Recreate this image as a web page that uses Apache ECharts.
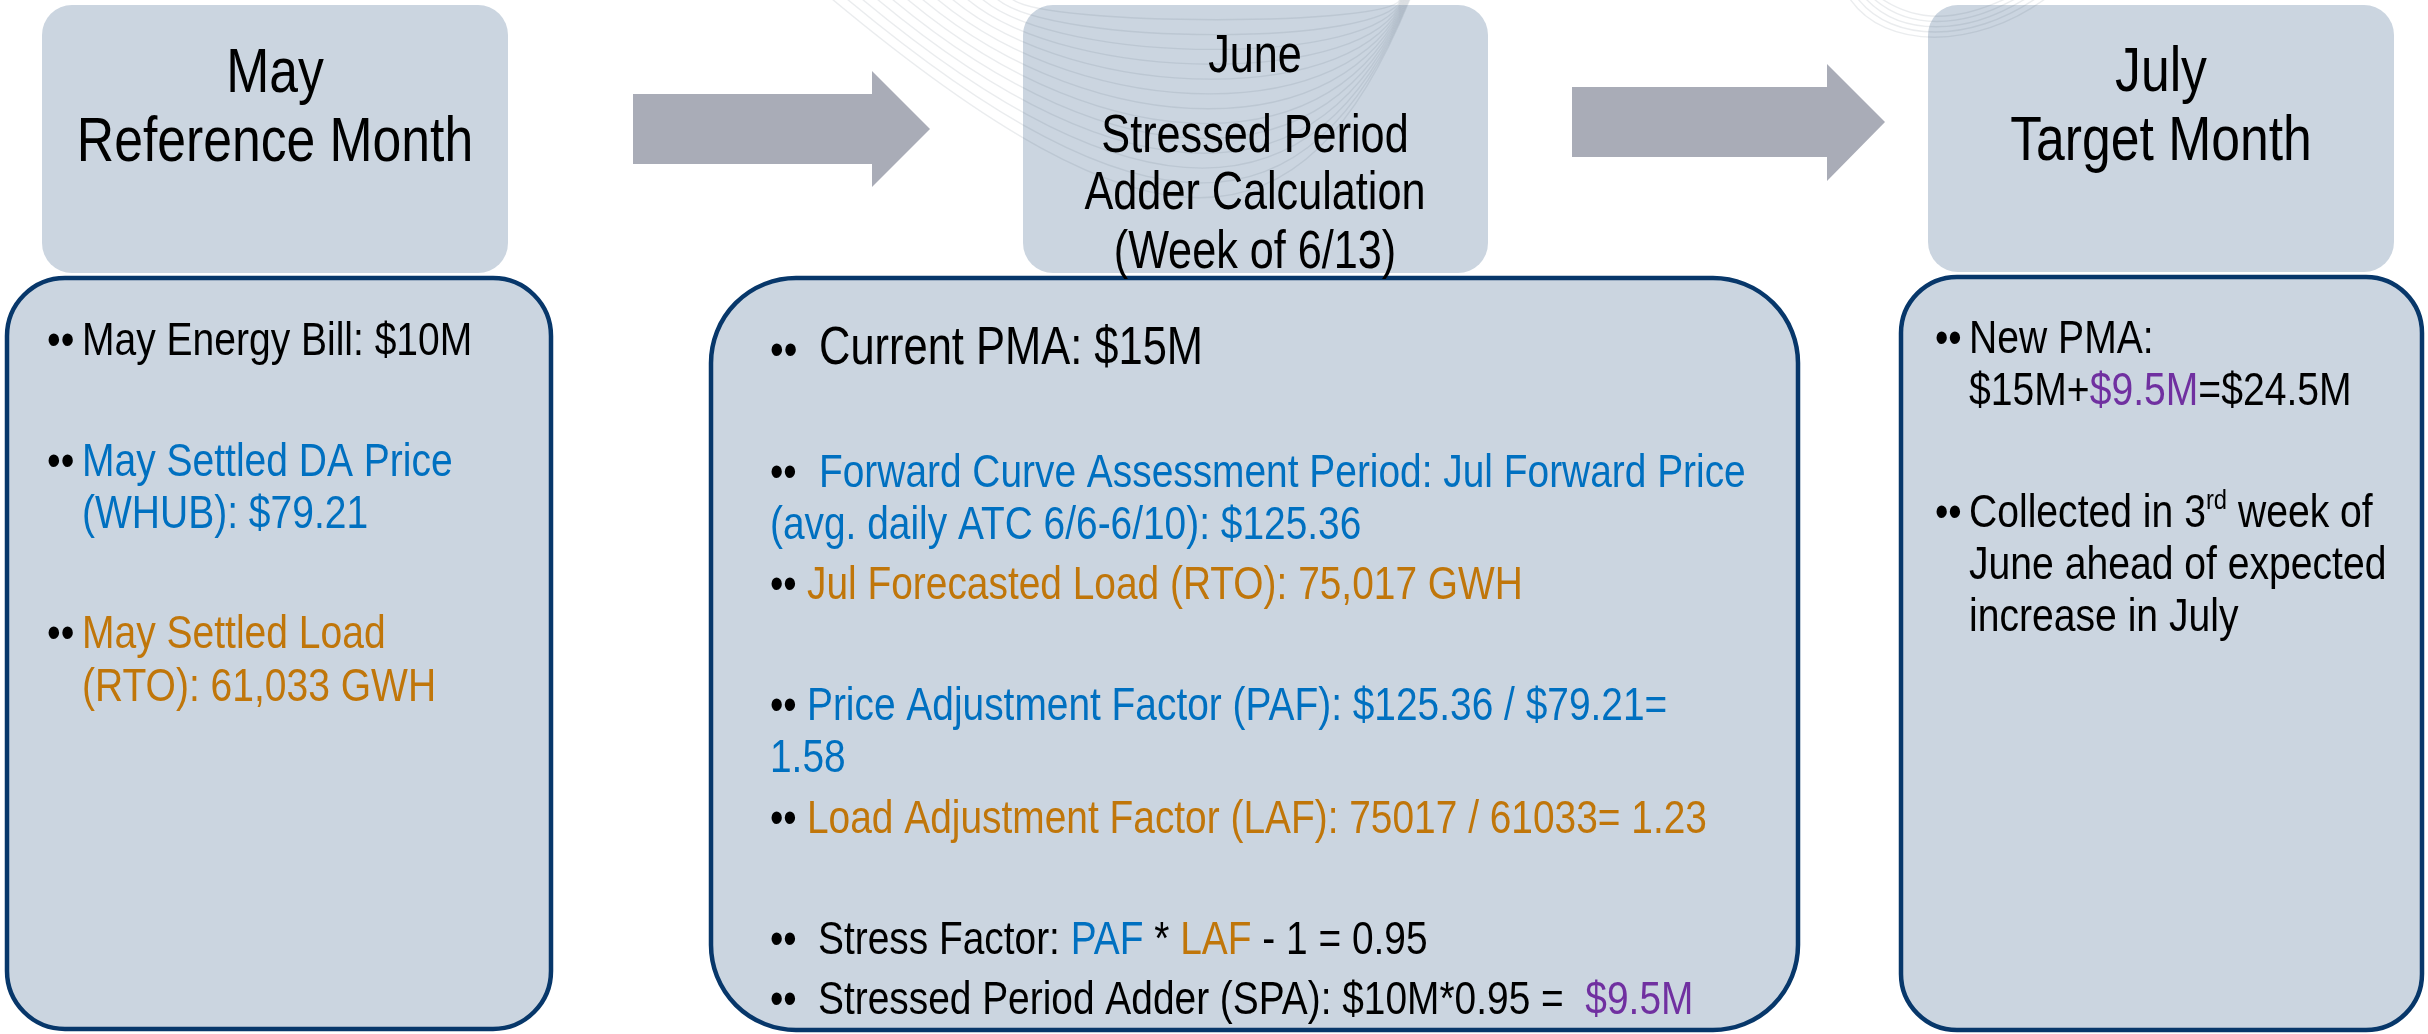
<!DOCTYPE html>
<html>
<head>
<meta charset="utf-8">
<script src="https://cdn.jsdelivr.net/npm/echarts@6/dist/echarts.min.js"></script>
<style>
html,body{margin:0;padding:0;background:#ffffff;}
#chart{width:2428px;height:1034px;}
</style>
</head>
<body>
<div id="chart"></div>
<script>
// ---------------- DATA (text content) ----------------
const headerMay  = ["May", "Reference Month"];
const headerJune = ["June", "Stressed Period", "Adder Calculation", "(Week of 6/13)"];
const headerJuly = ["July", "Target Month"];

// tone tags: k = plain (black), p = price (blue), l = load (orange), s = adder result (purple), sup = superscript
const mayLines = [
  { bullet: "k", segs: [["k", "May Energy Bill: $10M"]] },
  { bullet: "p", segs: [["p", "May Settled DA Price"]] },
  { bullet: null, segs: [["p", "(WHUB): $79.21"]] },
  { bullet: "l", segs: [["l", "May Settled Load"]] },
  { bullet: null, segs: [["l", "(RTO): 61,033 GWH"]] }
];
const juneLines = [
  { bullet: "k", segs: [["k", "Current PMA: $15M"]] },
  { bullet: "p", segs: [["p", "Forward Curve Assessment Period: Jul Forward Price"]] },
  { bullet: null, segs: [["p", "(avg. daily ATC 6/6-6/10): $125.36"]] },
  { bullet: "l", segs: [["l", "Jul Forecasted Load (RTO): 75,017 GWH"]] },
  { bullet: "p", segs: [["p", "Price Adjustment Factor (PAF): $125.36 / $79.21="]] },
  { bullet: null, segs: [["p", "1.58"]] },
  { bullet: "l", segs: [["l", "Load Adjustment Factor (LAF): 75017 / 61033= 1.23"]] },
  { bullet: "k", segs: [["k", "Stress Factor: "], ["p", "PAF"], ["k", " * "], ["l", "LAF"], ["k", " - 1 = 0.95"]] },
  { bullet: "k", segs: [["k", "Stressed Period Adder (SPA): $10M*0.95 =  "], ["s", "$9.5M"]] }
];
const julyLines = [
  { bullet: "k", segs: [["k", "New PMA:"]] },
  { bullet: null, segs: [["k", "$15M+"], ["s", "$9.5M"], ["k", "=$24.5M"]] },
  { bullet: "k", segs: [["k", "Collected in 3"], ["sup", "rd"], ["k", " week of"]] },
  { bullet: null, segs: [["k", "June ahead of expected"]] },
  { bullet: null, segs: [["k", "increase in July"]] }
];

// ---------------- LAYOUT / STYLE ----------------
const FF = '"Liberation Sans", Arial, Helvetica, sans-serif';
const COLORS = { k: "#000000", p: "#0070C0", l: "#C0760A", s: "#7030A0" };
const BOX_FILL = "#CBD5E0";
const BORDER = "#07376A";
const ARROW = "#A9ACB7";

const LAYOUT = {
  may:  { bulletX: 47,   textX: [82, 82, 82, 82, 82],
          baselines: [358, 479, 531, 651, 704], fs: [47,47,47,47,47], sx: 0.83 },
  june: { bulletX: 770,  textX: [819, 819, 770, 807, 807, 770, 807, 818, 818],
          baselines: [368, 490, 542, 602, 723, 775, 836, 957, 1017],
          fs: [53,46,46,46,46,46,46,46,46], sx: [0.82,0.845,0.845,0.845,0.845,0.845,0.845,0.845,0.845] },
  july: { bulletX: 1935, textX: [1969, 1969, 1969, 1969, 1969],
          baselines: [356, 408, 530, 582, 634], fs: [46,46,46,46,46], sx: 0.85 }
};

function richFor(fs, lh) {
  return {
    k: { fill: COLORS.k }, p: { fill: COLORS.p }, l: { fill: COLORS.l }, s: { fill: COLORS.s },
    sup: { fill: COLORS.k, fontSize: Math.round(fs * 0.6), fontFamily: FF,
           lineHeight: lh - 0.38 * fs, verticalAlign: "top" }
  };
}
function textLine(x, baseline, fs, sx, segs, align, color) {
  const lh = Math.round(fs * 1.15);
  const str = segs.map(s => "{" + s[0] + "|" + s[1] + "}").join("");
  return {
    type: "text", x: x, y: baseline - 0.3465 * fs, scaleX: sx, z: 20,
    style: {
      text: str, x: 0, y: 0, font: fs + "px " + FF, fill: color || "#000",
      align: align || "left", textAlign: align || "left",
      verticalAlign: "middle", textVerticalAlign: "middle",
      lineHeight: lh, rich: richFor(fs, lh)
    }
  };
}
function plainLine(x, baseline, fs, sx, text, align, color) {
  return textLine(x, baseline, fs, sx, [["k", text]], align, color);
}

const els = [];

// header boxes
[[42, 5, 466, 268], [1023, 5, 465, 268], [1928, 5, 466, 267]].forEach(b => {
  els.push({ type: "rect", z: 1, shape: { x: b[0], y: b[1], width: b[2], height: b[3], r: 30 },
             style: { fill: BOX_FILL } });
});
// body boxes
[[7, 278, 544, 751, 58], [711, 278, 1087, 752, 85], [1901, 277, 521, 753, 56]].forEach(b => {
  els.push({ type: "rect", z: 2, shape: { x: b[0], y: b[1], width: b[2], height: b[3], r: b[4] },
             style: { fill: BOX_FILL, stroke: BORDER, lineWidth: 4.5 } });
});

// decorative background curves
for (let i = 0; i <= 12; i++) {
  const t = i / 12;
  const h = (20 + 178 * t) / 0.75;
  const sxp = 1012 - 180 * t;
  els.push({ type: "bezierCurve", z: 5, silent: true,
    shape: { x1: sxp, y1: -1, cpx1: sxp + h / 0.83, cpy1: h, cpx2: 1407 - 0.4 * h, cpy2: h, x2: 1400 + 10 * t, y2: -1 },
    style: { stroke: "rgba(80,95,115,0.12)", lineWidth: 1.4, fill: "none" } });
}
for (let i = 0; i < 5; i++) {
  els.push({ type: "bezierCurve", z: 5, silent: true,
    shape: { x1: 1850 + 8 * i, y1: -1, cpx1: 1885 + 8 * i, cpy1: 50 - 7 * i, cpx2: 1975 - 5 * i, cpy2: 50 - 7 * i, x2: 2045 - 10 * i, y2: -1 },
    style: { stroke: "rgba(80,95,115,0.12)", lineWidth: 1.4, fill: "none" } });
}

// arrows
els.push({ type: "polygon", z: 3, shape: { points: [[633,94],[872,94],[872,71],[930,129],[872,187],[872,164],[633,164]] }, style: { fill: ARROW } });
els.push({ type: "polygon", z: 3, shape: { points: [[1572,87],[1827,87],[1827,64],[1885,122],[1827,181],[1827,157],[1572,157]] }, style: { fill: ARROW } });

// header titles
const hdrMayBase = [96, 165], hdrJuneBase = [76, 156, 213, 272], hdrJulyBase = [95, 164];
headerMay.forEach((t, i) => els.push(plainLine(275, hdrMayBase[i], 63, 0.82, t, "center")));
headerJune.forEach((t, i) => els.push(plainLine(1255, hdrJuneBase[i], 53, 0.815, t, "center")));
headerJuly.forEach((t, i) => els.push(plainLine(2161, hdrJulyBase[i], 63, 0.82, t, "center")));

// body lines
function addColumn(lines, L) {
  lines.forEach((ln, i) => {
    const fs = L.fs[i];
    const sx = Array.isArray(L.sx) ? L.sx[i] : L.sx;
    if (ln.bullet) {
      const bfs = Math.min(fs, 47);
      els.push(plainLine(L.bulletX, L.baselines[i], bfs, 0.83, "\u2022\u2022", "left", COLORS[ln.bullet]));
    }
    els.push(textLine(L.textX[i], L.baselines[i], fs, sx, ln.segs, "left"));
  });
}
addColumn(mayLines, LAYOUT.may);
addColumn(juneLines, LAYOUT.june);
addColumn(julyLines, LAYOUT.july);

const chart = echarts.init(document.getElementById("chart"), null, { renderer: "canvas" });
chart.setOption({
  animation: false,
  backgroundColor: "#ffffff",
  graphic: { elements: els }
});
</script>
</body>
</html>
